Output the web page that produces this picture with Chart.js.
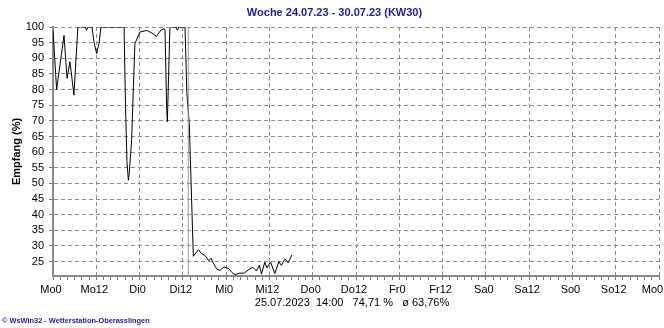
<!DOCTYPE html>
<html><head><meta charset="utf-8">
<script src="https://cdn.jsdelivr.net/npm/chart.js@4/dist/chart.umd.min.js"></script>
<style>html,body{margin:0;padding:0;background:#fff;}#wrap{width:664px;height:328px;position:relative}</style>
</head><body><div id="wrap"><canvas id="c" width="664" height="328"></canvas></div>
<script>
// ---- data (hours since Mo 24.07.23 00:00, reception %) ----
const hours = [0, 1.0, 3.05, 3.9, 4.7, 5.8, 6.9, 8.9, 9.3, 9.7, 10.8, 11.4, 12.1, 12.8, 13.3,
  19.7, 20.1, 20.5, 20.9, 21.2, 21.8, 22.3, 22.7, 24.1, 26.0, 27.4, 28.7, 29.9, 30.8, 31.05,
  31.5, 31.7, 32.4, 32.9, 34.1, 34.5, 34.9, 36.6, 37.1, 37.8, 38.9, 40.3, 41.2, 42.1, 43.2,
  43.8, 44.6, 45.4, 46.3, 47.4, 48.7, 49.6, 50.5, 51.6, 53.0, 54.1, 55.4, 56.4, 57.2, 57.8,
  58.7, 59.3, 60.3, 61.5, 62.6, 63.3, 64.3, 65.2, 66.2];
const values = [99, 80, 97.3, 83.6, 88.9, 78.2, 100, 100, 99, 100, 100, 95, 91.5, 95, 100,
  100, 75, 57, 51, 54, 64, 81, 94.7, 98.4, 98.9, 98.1, 97, 99, 99.5, 99,
  74.5, 69.7, 99.5, 100, 100, 99, 100, 100, 79, 68.6, 26.7, 28.8, 27.5, 27.0, 25.3,
  26.1, 24.2, 22.6, 22.2, 23.3, 22.8, 21.5, 20.8, 21.3, 21.3, 22.3, 23.2, 22.0, 23.8, 21.0,
  24.8, 23.0, 24.9, 21.2, 25.0, 23.8, 25.8, 24.6, 27.1];
const xTickLabels = ['Mo0','Mo12','Di0','Di12','Mi0','Mi12','Do0','Do12','Fr0','Fr12','Sa0','Sa12','So0','So12','Mo0   '];
const yTickValues = [25,30,35,40,45,50,55,60,65,70,75,80,85,90,95,100];
const cursorHour = 37.5;
const titleText = 'Woche 24.07.23 - 30.07.23 (KW30)';
const yTitle = 'Empfang (%)';
const infoText = '25.07.2023  14:00   74,71 %   ø 63,76%';
const footerText = '© WsWin32 - Wetterstation-Oberasslingen';
const yMin = 20.4, yMax = 100, xMax = 168;

const FONT = '"Liberation Sans", Arial, sans-serif';
const GRID = '#8c8c8c';

const textPlugin = {
  id: 'texts',
  afterDraw(chart) {
    const ctx = chart.ctx;
    ctx.save();
    ctx.fillStyle = '#000';
    ctx.font = '11px ' + FONT;
    ctx.textAlign = 'center';
    ctx.textBaseline = 'middle';
    ctx.fillText(infoText, 352, 303);
    ctx.fillStyle = '#1c1c9c';
    ctx.font = 'bold 7.4px ' + FONT;
    ctx.textAlign = 'left';
    ctx.fillText(footerText, 2, 321);
    ctx.restore();
  }
};

new Chart(document.getElementById('c'), {
  type: 'line',
  data: {
    datasets: [
      { data: [{x: cursorHour, y: yMin}, {x: cursorHour, y: yMax}], borderColor: '#9a9a9a', borderWidth: 1, pointRadius: 0 },
      { data: hours.map((h, i) => ({x: h, y: values[i]})), borderColor: '#000', borderWidth: 1, pointRadius: 0, tension: 0 }
    ]
  },
  options: {
    responsive: false, animation: false, devicePixelRatio: 1,
    layout: { padding: { left: 10, right: 5, top: 0, bottom: 0 } },
    plugins: {
      legend: { display: false }, tooltip: { enabled: false },
      title: { display: true, text: titleText, color: '#1c1cb0', font: { family: FONT, size: 11, weight: 'bold' }, padding: { top: 6.5, bottom: 7.3 } }
    },
    scales: {
      x: {
        type: 'linear', min: 0, max: xMax,
        afterBuildTicks: s => { const t = []; for (let v = 0; v <= xMax; v += 2) t.push({value: v}); s.ticks = t; },
        afterFit: s => { s.height = 52; s.paddingLeft = 0; s.paddingRight = 0; },
        ticks: { autoSkip: false, maxRotation: 0, padding: 3, labelOffset: -2, color: '#000', font: { family: FONT, size: 11 },
          callback: v => (v % 12 === 0 ? xTickLabels[v / 12] : '') },
        grid: { color: c => (c.tick && c.tick.value % 12 === 0 && c.tick.value > 0) ? GRID : 'rgba(0,0,0,0)', tickColor: '#777', tickLength: 4, lineWidth: 1 },
        border: { display: true, color: '#8a8a8a', width: 2, dash: [4, 3] }
      },
      y: {
        type: 'linear', min: yMin, max: yMax,
        afterBuildTicks: s => { s.ticks = yTickValues.map(v => ({value: v})); },
        afterFit: s => { s.width = 43; s.paddingTop = 0; s.paddingBottom = 0; },
        ticks: { padding: 5, color: '#000', font: { family: FONT, size: 11 } },
        title: { display: true, text: yTitle, color: '#000', font: { family: FONT, size: 11, weight: 'bold' }, padding: { top: 0, bottom: 0 } },
        grid: { color: GRID, tickColor: '#777', tickLength: 4, lineWidth: 1 },
        border: { display: true, color: '#8a8a8a', width: 2, dash: [4, 3] }
      }
    }
  },
  plugins: [textPlugin]
});
</script></body></html>
